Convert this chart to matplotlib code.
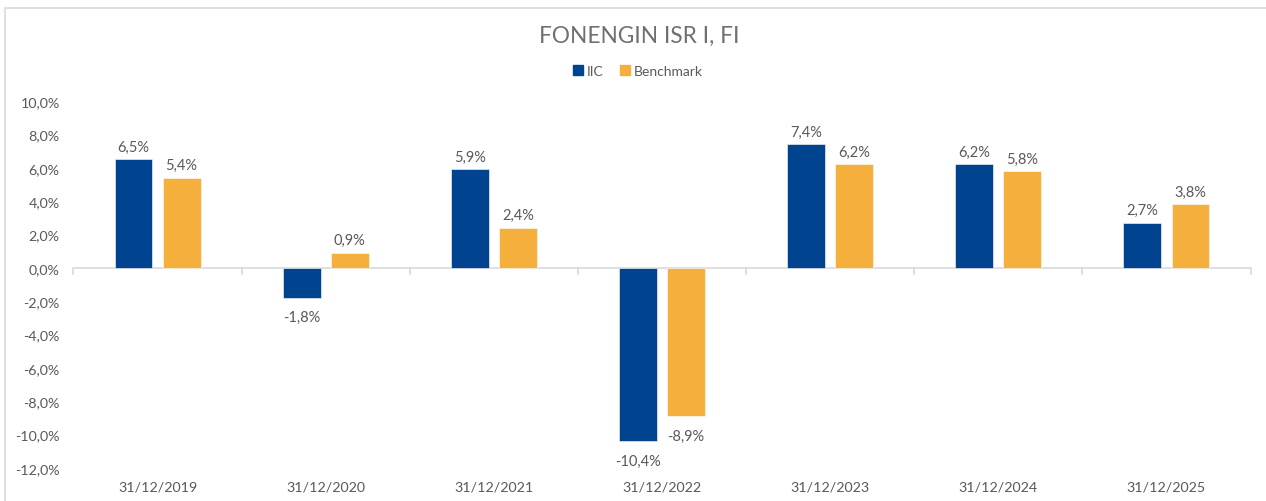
import numpy as np
import matplotlib
matplotlib.use("Agg")
import matplotlib.pyplot as plt
from matplotlib.lines import Line2D
from matplotlib.patches import Patch

plt.rcParams['font.family'] = ['Lato', 'DejaVu Sans']

# data
years = ['31/12/2019', '31/12/2020', '31/12/2021', '31/12/2022',
         '31/12/2023', '31/12/2024', '31/12/2025']
iic = [6.5, -1.8, 5.9, -10.4, 7.4, 6.2, 2.7]
benchmark = [5.4, 0.9, 2.4, -8.9, 6.2, 5.8, 3.8]
series_names = ['IIC', 'Benchmark']
title = 'FONENGIN ISR I, FI'

blue = '#00438F'
orange = '#F5AF3C'
text_grey = '#595959'
line_grey = '#D9D9D9'


def pct(v):
    return f"{v:.1f}%".replace('.', ',')


fig = plt.figure(figsize=(12.66, 5.02), dpi=100)
W, H = 1266, 502
ax = fig.add_axes([73.5 / W, (H - 469) / H, (1250.5 - 73.5) / W, (469 - 102) / H])

x = np.arange(len(years))
width = 0.225
off = 0.143
b1 = ax.bar(x - off, iic, width, color=blue, edgecolor='white', linewidth=0.4)
b2 = ax.bar(x + off, benchmark, width, color=orange, edgecolor='white', linewidth=0.4)

for bars, vals in ((b1, iic), (b2, benchmark)):
    for rect, v in zip(bars, vals):
        cx = rect.get_x() + rect.get_width() / 2
        if v >= 0:
            ax.annotate(pct(v), (cx, v), xytext=(0, 4), textcoords='offset points',
                        ha='center', va='bottom', fontsize=10.5, color=text_grey)
        else:
            ax.annotate(pct(v), (cx, v), xytext=(0, -9), textcoords='offset points',
                        ha='center', va='top', fontsize=10.5, color=text_grey)

ax.set_xlim(-0.5, len(years) - 0.5)
ax.set_ylim(-12, 10)
ax.set_yticks(np.arange(-12, 10.1, 2))
ax.set_yticklabels([pct(v) for v in np.arange(-12, 10.1, 2)])
ax.set_xticks(x)
ax.set_xticklabels(years)
ax.tick_params(axis='both', length=0, labelsize=10.3, colors=text_grey)
ax.tick_params(axis='x', pad=9)
ax.tick_params(axis='y', pad=10)
for s in ax.spines.values():
    s.set_visible(False)

# zero line with category boundary ticks
ax.axhline(0, color=line_grey, linewidth=1.2, zorder=0.5)
for b in np.arange(-0.5, len(years), 1.0):
    ax.plot([b, b], [0, -0.35], color=line_grey, linewidth=1.2, zorder=0.5,
            clip_on=False)

fig.text(639 / W, 1 - 36 / H, title, ha='center', va='center', fontsize=16.3,
         color='#707070')

handles = [Patch(color=blue), Patch(color=orange)]
fig.legend(handles, series_names, loc='center', bbox_to_anchor=(638 / W, 1 - 72 / H),
           ncol=2, frameon=False, fontsize=10, labelcolor=text_grey,
           handlelength=0.7, handleheight=0.7, handletextpad=0.3, columnspacing=1.2)

# chart frame (top and left edges visible)
fig.add_artist(Line2D([5 / W, 1], [1 - 9 / H, 1 - 9 / H], color='#E0E0E0', linewidth=1.5))
fig.add_artist(Line2D([5 / W, 5 / W], [0, 1 - 9 / H], color='#E0E0E0', linewidth=1.5))

fig.savefig('out.png', dpi=100)
